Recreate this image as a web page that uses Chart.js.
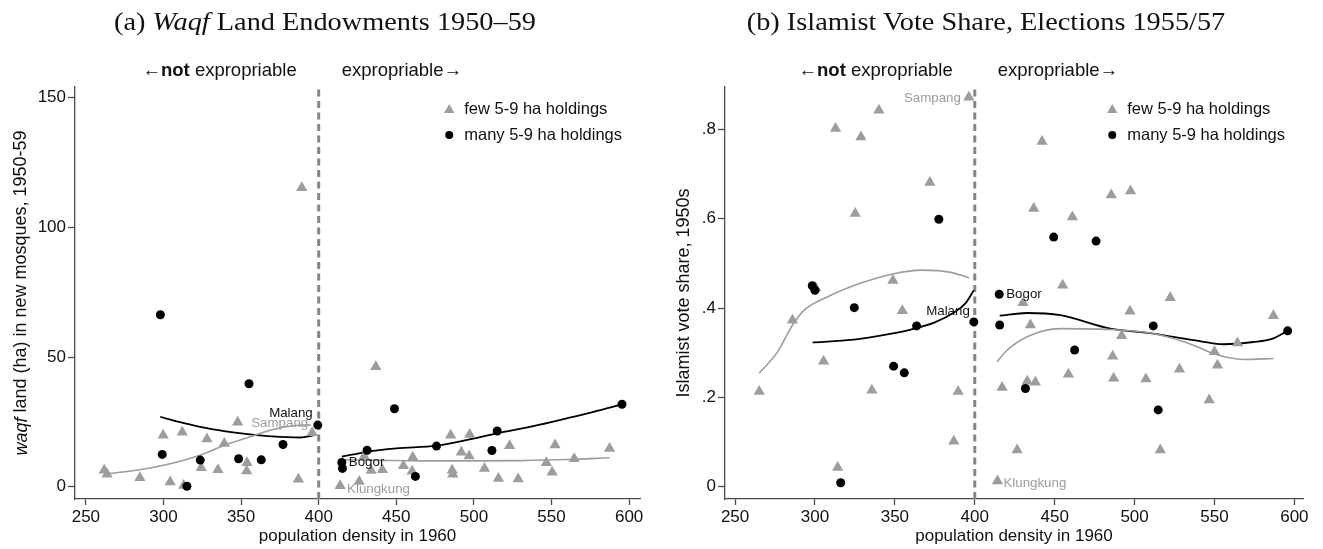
<!DOCTYPE html>
<html>
<head>
<meta charset="utf-8">
<script src="https://cdn.jsdelivr.net/npm/chart.js@4.4.1/dist/chart.umd.min.js"></script>
<style>
  html, body { margin: 0; padding: 0; background: #fff; }
  #page { position: relative; width: 1323px; height: 549px; overflow: hidden; }
  .panel { position: absolute; top: 0; }
  .title {
    position: absolute; top: 7px; line-height: 30px;
    font-family: "Liberation Serif", "Times New Roman", serif; font-size: 25.5px;
    color: #111; white-space: nowrap; transform: translateX(-50%) scaleX(1.11);
  }
</style>
</head>
<body>
<div id="page">
  <canvas id="waqfChart" class="panel" style="left:0" width="660" height="549"></canvas>
  <canvas id="voteChart" class="panel" style="left:660px" width="663" height="549"></canvas>
  <div class="title" style="left:325px">(a) <i>Waqf</i> Land Endowments 1950–59</div>
  <div class="title" style="left:986px">(b) Islamist Vote Share, Elections 1955/57</div>
</div>
<script>
(() => {
  // shared axis
  const cutoff = 400;
  const xTicks = [250, 300, 350, 400, 450, 500, 550, 600];

  // (a) waqf land in new mosques (ha)
  const waqfTicks = [0, 50, 100, 150];
  const waqfFew = [
    [261.8, 6.4], [263.7, 4.8], [284.8, 3.5], [299.8, 19.9], [304.3, 1.9], [312.1, 21.0],
    [313.0, 0.5], [324.3, 7.3], [328.0, 18.4], [335.1, 6.6], [339.2, 16.7], [347.8, 24.9],
    [353.6, 6.1], [353.8, 9.3], [386.9, 2.9], [389.1, 115.3], [395.8, 20.8],
    [413.8, 0.4], [426.1, 2.0], [429.3, 11.8], [433.8, 6.3], [436.8, 46.3], [441.0, 6.6],
    [454.6, 8.1], [460.2, 6.0], [460.6, 11.4], [485.0, 19.9], [486.0, 6.4], [486.4, 4.8],
    [491.9, 13.3], [496.9, 11.9], [497.3, 20.2], [506.8, 7.1], [515.8, 3.2], [523.0, 15.8],
    [528.5, 3.0], [546.7, 9.3], [550.4, 5.6], [552.3, 16.1], [564.6, 10.8], [587.4, 14.8],
  ];
  const waqfMany = [
    [298.0, 66.3], [299.2, 12.5], [315.1, 0.2], [323.7, 10.3], [348.4, 10.8], [355.1, 39.7],
    [363.0, 10.4], [377.0, 16.3], [399.4, 23.8],
    [414.9, 9.4], [415.3, 7.1], [431.2, 14.1], [448.8, 30.1], [462.3, 4.0], [475.9, 15.7],
    [511.6, 14.0], [515.0, 21.5], [595.4, 31.8],
  ];
  const waqfFewFitLeft = [[263.7, 5.0], [284.8, 6.6], [300, 8.3], [323.5, 12.2], [342, 16.6], [356, 19.3], [370, 22.0], [385, 23.6], [395, 23.8]];
  const waqfFewFitRight = [[414.9, 10.4], [440, 10.2], [470, 10.0], [500, 10.0], [530, 10.1], [560, 10.5], [587.4, 11.2]];
  const waqfManyFitLeft = [[297.9, 27.0], [310, 25.0], [323.5, 23.1], [340, 21.4], [355.7, 20.2], [370, 19.4], [388, 19.0], [397.6, 19.9]];
  const waqfManyFitRight = [[414.9, 11.6], [431.2, 13.5], [450, 14.8], [475.9, 15.9], [495, 18.0], [515, 20.6], [538.3, 23.4], [559.9, 26.4], [577.1, 28.9], [595.4, 31.8]];
  const waqfNamed = [["Malang", 399.4, 23.8], ["Sampang", 395.8, 20.8], ["Bogor", 414.9, 9.4], ["Klungkung", 413.8, 0.4]];

  // (b) Islamist vote share
  const voteTicks = [0, 0.2, 0.4, 0.6, 0.8];
  const voteTickLabels = ["0", ".2", ".4", ".6", ".8"];
  const voteFew = [
    [265.1, 0.213], [285.9, 0.373], [300.5, 0.445], [305.4, 0.281], [312.9, 0.802], [314.2, 0.043],
    [325.2, 0.612], [328.8, 0.783], [335.6, 0.216], [340.0, 0.843], [348.8, 0.462], [354.7, 0.394],
    [371.9, 0.681], [386.9, 0.102], [389.6, 0.213], [396.3, 0.872],
    [414.2, 0.013], [417.1, 0.222], [426.5, 0.082], [430.2, 0.412], [432.8, 0.236], [434.8, 0.362],
    [436.9, 0.623], [437.9, 0.234], [442.1, 0.773], [455.0, 0.451], [458.6, 0.252], [461.1, 0.604],
    [485.4, 0.653], [486.3, 0.292], [486.9, 0.243], [491.9, 0.338], [497.1, 0.393], [497.5, 0.662],
    [507.1, 0.241], [516.1, 0.082], [522.3, 0.423], [528.1, 0.263], [546.7, 0.194], [550.0, 0.302],
    [551.9, 0.272], [564.4, 0.322], [586.9, 0.383],
  ];
  const voteMany = [
    [298.3, 0.450], [300.0, 0.440], [316.1, 0.009], [324.6, 0.401], [349.2, 0.270], [355.9, 0.255],
    [363.6, 0.360], [377.5, 0.599], [399.4, 0.369],
    [415.3, 0.431], [415.6, 0.362], [431.7, 0.220], [449.4, 0.559], [462.5, 0.306], [475.9, 0.550],
    [511.7, 0.360], [514.8, 0.172], [595.8, 0.349],
  ];
  const voteFewFitLeft = [[265.1, 0.254], [276.6, 0.302], [286.0, 0.362], [293.1, 0.395], [307.7, 0.425], [328.8, 0.456], [349.4, 0.477], [366.3, 0.485], [385, 0.480], [396.3, 0.468]];
  const voteFewFitRight = [[414.0, 0.280], [420, 0.305], [432.8, 0.336], [453.6, 0.354], [484.8, 0.352], [511.7, 0.343], [536.9, 0.317], [550.0, 0.297], [568.1, 0.285], [586.9, 0.287]];
  const voteManyFitLeft = [[298.5, 0.323], [320, 0.328], [340, 0.338], [360, 0.352], [375, 0.368], [387, 0.390], [394, 0.410], [399.4, 0.440]];
  const voteManyFitRight = [[415.6, 0.383], [432.8, 0.389], [453.6, 0.384], [484.8, 0.354], [511.7, 0.343], [536.9, 0.328], [555.6, 0.319], [574.4, 0.324], [586, 0.331], [595.8, 0.349]];
  const voteNamed = [["Malang", 399.4, 0.369], ["Sampang", 396.3, 0.872], ["Bogor", 415.3, 0.431], ["Klungkung", 414.2, 0.013]];

  const legendNames = ["few 5-9 ha holdings", "many 5-9 ha holdings"];

  const sans = "'Liberation Sans', Arial, Helvetica, sans-serif";
  const font = (size, extra = "") => `${extra} ${size}px ${sans}`.trim();
  const ink = "#111";
  const axisColor = "#4a4a4a";
  const grey = "#9d9d9d";
  const cutoffGrey = "#858585";

  const toPoints = (pairs) => pairs.map(([x, y]) => ({ x, y }));

  const runsWidth = (ctx, runs) => runs.reduce((w, [text, f]) => {
    ctx.font = f;
    return w + ctx.measureText(text).width;
  }, 0);

  const drawRuns = (ctx, runs, x, y) => {
    runs.forEach(([text, f]) => {
      ctx.font = f;
      ctx.fillText(text, x, y);
      x += ctx.measureText(text).width;
    });
  };

  const triangle = (ctx, x, y, r) => {
    ctx.beginPath();
    ctx.moveTo(x, y - r);
    ctx.lineTo(x + r * Math.sin(Math.PI * 2 / 3), y + r / 2);
    ctx.lineTo(x - r * Math.sin(Math.PI * 2 / 3), y + r / 2);
    ctx.closePath();
    ctx.fill();
  };

  const dot = (ctx, x, y, r) => {
    ctx.beginPath();
    ctx.arc(x, y, r, 0, Math.PI * 2);
    ctx.fill();
  };

  // where each named place sits relative to its marker
  const labelPlacement = {
    waqf: {
      Malang: { dx: -5, dy: -12, align: "right", color: ink },
      Sampang: { dx: -4, dy: -10, align: "right", color: grey },
      Bogor: { dx: 7, dy: 0, align: "left", color: ink },
      Klungkung: { dx: 7, dy: 4, align: "left", color: grey },
    },
    vote: {
      Malang: { dx: -4, dy: -11, align: "right", color: ink },
      Sampang: { dx: -8, dy: 1, align: "right", color: grey },
      Bogor: { dx: 7, dy: 0, align: "left", color: ink },
      Klungkung: { dx: 6, dy: 2, align: "left", color: grey },
    },
  };

  const overlayPlugin = (panel) => ({
    id: `overlay-${panel.id}`,
    afterDatasetsDraw(chart) {
      const { ctx, chartArea, scales } = chart;
      const cx = scales.x.getPixelForValue(cutoff);
      ctx.save();
      ctx.textBaseline = "middle";
      ctx.textAlign = "left";
      ctx.fillStyle = ink;

      // side captions around the cutoff
      const ty = chartArea.top - 16;
      const leftRuns = [["\u2190", font(18.5)], ["not", font(18.5, "bold")], [" expropriable", font(18.5)]];
      drawRuns(ctx, leftRuns, cx - 22 - runsWidth(ctx, leftRuns), ty);
      drawRuns(ctx, [["expropriable\u2192", font(18.5)]], cx + 23, ty);

      // legend, top right inside the plot
      ctx.font = font(16.5);
      const longest = Math.max(...legendNames.map((n) => ctx.measureText(n).width));
      const lx = chartArea.right - 18 - longest;
      const rowY = [chartArea.top + 22, chartArea.top + 48];
      ctx.fillStyle = grey;
      triangle(ctx, lx - 15, rowY[0] + 1, 6);
      ctx.fillStyle = "#000";
      dot(ctx, lx - 15, rowY[1], 4);
      ctx.fillStyle = ink;
      legendNames.forEach((name, i) => ctx.fillText(name, lx, rowY[i]));

      // named places
      ctx.font = font(13.3);
      panel.named.forEach(([name, vx, vy]) => {
        const p = labelPlacement[panel.id][name];
        ctx.fillStyle = p.color;
        ctx.textAlign = p.align;
        ctx.fillText(name, scales.x.getPixelForValue(vx) + p.dx, scales.y.getPixelForValue(vy) + p.dy);
      });

      // y axis title (mixed styles, so drawn here)
      ctx.textAlign = "left";
      ctx.fillStyle = ink;
      ctx.translate(panel.yTitleX, (chartArea.top + chartArea.bottom) / 2);
      ctx.rotate(-Math.PI / 2);
      drawRuns(ctx, panel.yTitle, -runsWidth(ctx, panel.yTitle) / 2, 0);
      ctx.restore();
    },
  });

  const fitLine = (pairs, color, width) => ({
    data: toPoints(pairs),
    showLine: true,
    borderColor: color,
    borderWidth: width,
    pointRadius: 0,
    cubicInterpolationMode: "monotone",
    order: 3,
  });

  const renderPanel = (canvas, panel) => {
    const datasets = [
      {
        label: legendNames[1],
        data: toPoints(panel.many),
        pointStyle: "circle",
        pointRadius: 4.5,
        backgroundColor: "#000",
        borderColor: "#000",
        borderWidth: 0,
        showLine: false,
        order: 1,
      },
      {
        label: legendNames[0],
        data: toPoints(panel.few),
        pointStyle: "triangle",
        pointRadius: 6.5,
        backgroundColor: grey,
        borderColor: grey,
        borderWidth: 0,
        showLine: false,
        order: 2,
      },
      fitLine(panel.fewFitLeft, grey, 1.6),
      fitLine(panel.fewFitRight, grey, 1.6),
      fitLine(panel.manyFitLeft, "#000", 1.8),
      fitLine(panel.manyFitRight, "#000", 1.8),
      {
        data: [{ x: cutoff, y: panel.yMin }, { x: cutoff, y: panel.yMax }],
        showLine: true,
        borderColor: cutoffGrey,
        borderWidth: 3,
        borderDash: [7, 4.5],
        pointRadius: 0,
        order: 4,
      },
    ];

    return new Chart(canvas, {
      type: "scatter",
      data: { datasets },
      options: {
        responsive: false,
        animation: false,
        devicePixelRatio: 1,
        events: [],
        layout: { padding: { top: 87, right: 20, bottom: 0, left: 0 } },
        plugins: { legend: { display: false }, tooltip: { enabled: false } },
        scales: {
          x: {
            type: "linear",
            min: panel.xMin,
            max: panel.xMax,
            afterBuildTicks: (s) => { s.ticks = xTicks.map((value) => ({ value })); },
            afterFit: (s) => { s.height = 50; },
            border: { display: true, color: axisColor, width: 1.3 },
            grid: { drawOnChartArea: false, drawTicks: true, tickLength: 6, tickColor: axisColor, tickWidth: 1.3 },
            ticks: { color: ink, font: { family: sans, size: 17 }, padding: 2, maxRotation: 0 },
            title: {
              display: true,
              text: "population density in 1960",
              color: ink,
              font: { family: sans, size: 17 },
              padding: { top: 0, bottom: 2 },
            },
          },
          y: {
            type: "linear",
            min: panel.yMin,
            max: panel.yMax,
            afterBuildTicks: (s) => { s.ticks = panel.yTicks.map((value) => ({ value })); },
            afterFit: (s) => { s.width = panel.yWidth; },
            border: { display: true, color: axisColor, width: 1.3 },
            grid: { drawOnChartArea: false, drawTicks: true, tickLength: 7, tickColor: axisColor, tickWidth: 1.3 },
            ticks: {
              color: ink,
              font: { family: sans, size: 17 },
              padding: 2,
              callback: (value) => panel.yLabel(value),
            },
          },
        },
      },
      plugins: [overlayPlugin(panel)],
    });
  };

  renderPanel(document.getElementById("waqfChart"), {
    id: "waqf",
    few: waqfFew,
    many: waqfMany,
    fewFitLeft: waqfFewFitLeft,
    fewFitRight: waqfFewFitRight,
    manyFitLeft: waqfManyFitLeft,
    manyFitRight: waqfManyFitRight,
    named: waqfNamed,
    xMin: 243, xMax: 607,
    yMin: -4.7, yMax: 154.1,
    yTicks: waqfTicks,
    yLabel: (v) => String(v),
    yWidth: 75,
    yTitleX: 21.5,
    yTitle: [["waqf", font(18, "italic")], [" land (ha) in new mosques, 1950-59", font(18)]],
  });

  renderPanel(document.getElementById("voteChart"), {
    id: "vote",
    few: voteFew,
    many: voteMany,
    fewFitLeft: voteFewFitLeft,
    fewFitRight: voteFewFitRight,
    manyFitLeft: voteManyFitLeft,
    manyFitRight: voteManyFitRight,
    named: voteNamed,
    xMin: 243.7, xMax: 605.4,
    yMin: -0.0275, yMax: 0.895,
    yTicks: voteTicks,
    yLabel: (v) => voteTickLabels[voteTicks.indexOf(v)] ?? "",
    yWidth: 65,
    yTitleX: 24,
    yTitle: [["Islamist vote share, 1950s", font(18)]],
  });
})();
</script>
</body>
</html>
